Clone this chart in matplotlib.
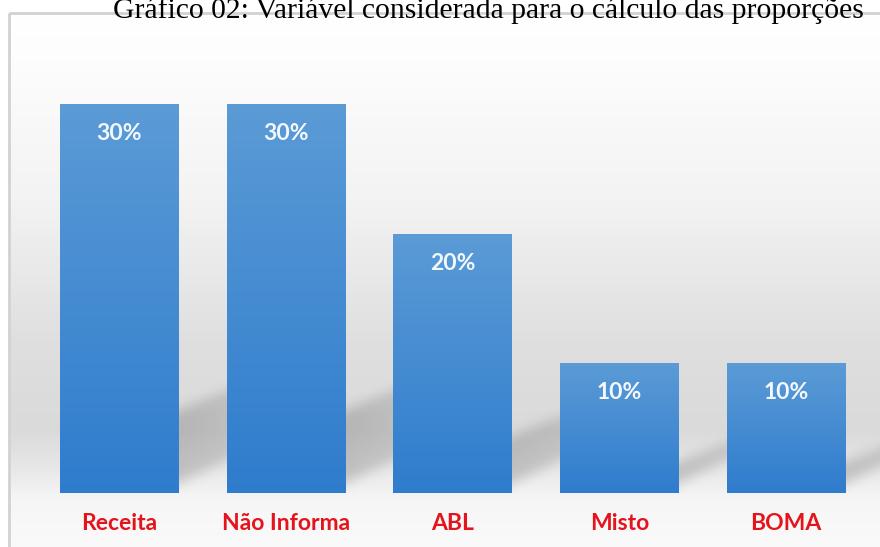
import numpy as np
import matplotlib
matplotlib.use('Agg')
import matplotlib.pyplot as plt
from matplotlib.path import Path
from matplotlib.patches import Rectangle
from matplotlib.colors import to_rgb

# ---- data ----
title = "Gráfico 02: Variável considerada para o cálculo das proporções"
categories = ['Receita', 'Não Informa', 'ABL', 'Misto', 'BOMA']
values = [30, 30, 20, 10, 10]
value_labels = ['30%', '30%', '20%', '10%', '10%']

W, H = 880, 547
fig = plt.figure(figsize=(W / 100, H / 100), dpi=100)

# ---- background panel with vertical gradient ----
bg = fig.add_axes([0, 0, 1, 1])
bg.set_axis_off()
rows = np.linspace(13, H, 600)
kp_y = [13, 60, 200, 340, 430, 470, 500, 547]
kp_g = [255, 253, 243, 223, 218, 232, 246, 250]
g = np.interp(rows, kp_y, kp_g) / 255.0
grad = np.dstack([g[:, None]] * 3)
bg.imshow(grad, extent=(9, W, H, 13), aspect='auto', interpolation='bilinear', zorder=0)
bg.set_xlim(0, W)
bg.set_ylim(H, 0)
bg.add_patch(Rectangle((9, 13), 1000, 1000, fill=False, ec='#d2d2d2', lw=2, zorder=1))

fig.text(488 / W, 1 - 18 / H, title, family='Liberation Serif', fontsize=21.3,
         ha='center', va='baseline', color='black', zorder=5)

# ---- main axes ----
ppu = (493 - 104) / 30.0  # pixels per percent
ytop = (493 - 14) / ppu
left_px, right_px = 35.6, 869.4
ax = fig.add_axes([left_px / W, (H - 493) / H, (right_px - left_px) / W, (493 - 14) / H])
ax.set_axis_off()
ax.patch.set_alpha(0)

n = len(values)
bw = 0.708
pos = np.arange(n)
pxx = (right_px - left_px) / 5.0  # pixels per x unit

# ---- soft perspective shadows (raster in data coords) ----
sx0, sx1 = -0.5, 5.3
nx = int((sx1 - sx0) * pxx)
ny = int(ytop * ppu)
xg = np.linspace(sx0, sx1, nx)
yg = np.linspace(0, ytop, ny)
XX, YY = np.meshgrid(xg, yg)
pts = np.column_stack([XX.ravel(), YY.ravel()])
shade = np.zeros(XX.size, dtype=float)
D, s_lo, s_hi = 115.0, 0.55, 0.40
for p, v in zip(pos, values):
    xr = p + bw / 2
    hs = 0.2 * v * ppu + 5
    off = [(-20, 0), (D, s_lo * D), (D, hs + s_hi * D), (-20, hs - s_hi * 20)]
    poly = Path([(xr + dx / pxx, dy / ppu) for dx, dy in off])
    m = poly.contains_points(pts).astype(float)
    dist = np.clip((pts[:, 0] - xr) * pxx / D, 0, 1)
    m = m * (1 - 0.55 * dist)
    shade = np.maximum(shade, m)
shade = shade.reshape(ny, nx)

def box_blur(a, r, axis):
    k = np.ones(2 * r + 1) / (2 * r + 1)
    return np.apply_along_axis(lambda s: np.convolve(np.pad(s, r, mode='edge'), k, mode='valid'), axis, a)

for _ in range(3):
    shade = box_blur(shade, 5, 0)
    shade = box_blur(shade, 5, 1)
rgba = np.zeros((ny, nx, 4))
rgba[..., :3] = 0.2
rgba[..., 3] = shade * 0.22
ax.imshow(rgba, extent=(sx0, sx1, 0, ytop), origin='lower', aspect='auto',
          interpolation='bilinear', zorder=1, clip_on=False)

# ---- bars with vertical gradient ----
top_c = np.array(to_rgb('#5b9bd6'))
bot_c = np.array(to_rgb('#2f7ccd'))
bars = ax.bar(pos, values, width=bw, color='#4a8dd4', zorder=2, linewidth=0)
for b, v in zip(bars, values):
    t = np.linspace(0, 1, 256)[:, None]
    col = bot_c * (1 - t) + top_c * t
    im = ax.imshow(col[:, None, :].repeat(2, axis=1),
                   extent=(b.get_x(), b.get_x() + b.get_width(), 0, v),
                   origin='lower', aspect='auto', zorder=3, interpolation='bilinear')
    im.set_clip_path(b)

for p, v, lab in zip(pos, values, value_labels):
    ax.text(p, v - 29.5 / ppu, lab, ha='center', va='center', color='#f3f8fd',
            fontweight='bold', family='Lato', fontsize=16.5, zorder=4)

for p, c in zip(pos, categories):
    ax.text(p, -31 / ppu, c, ha='center', va='center', color='#e5141c',
            fontweight='bold', family='Lato', fontsize=16.5, zorder=4, clip_on=False)

ax.set_xlim(-0.5, 4.5)
ax.set_ylim(0, ytop)

fig.savefig('out.png', dpi=100)
